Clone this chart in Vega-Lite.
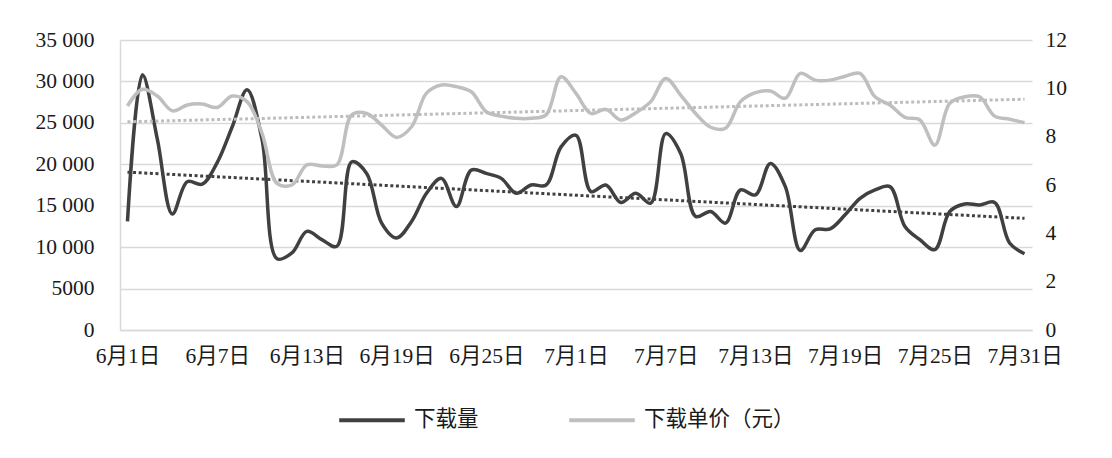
{
  "$schema": "https://vega.github.io/schema/vega-lite/v6.json",
  "width": 912,
  "height": 290,
  "autosize": {"type": "none"},
  "padding": {"left": 120, "top": 40, "right": 80, "bottom": 128},
  "background": "white",
  "config": {
    "view": {"stroke": null},
    "font": "Liberation Serif, Noto Sans CJK SC",
    "axis": {"labelFont": "Liberation Serif, Noto Sans CJK SC", "labelFontSize": 21.5, "labelColor": "#1a1a1a", "ticks": false, "title": null}
  },
  "data": {
    "values": [
      {"date": "2023-06-01", "downloads": 13100, "price": 9.27},
      {"date": "2023-06-02", "downloads": 30800, "price": 9.96},
      {"date": "2023-06-03", "downloads": 23000, "price": 9.68},
      {"date": "2023-06-04", "downloads": 14000, "price": 9.07},
      {"date": "2023-06-05", "downloads": 17900, "price": 9.31},
      {"date": "2023-06-06", "downloads": 17600, "price": 9.35},
      {"date": "2023-06-07", "downloads": 20200, "price": 9.21},
      {"date": "2023-06-08", "downloads": 24500, "price": 9.68},
      {"date": "2023-06-09", "downloads": 29000, "price": 9.45},
      {"date": "2023-06-10", "downloads": 23000, "price": 8.14},
      {"date": "2023-06-11", "downloads": 8600, "price": 6.07},
      {"date": "2023-06-12", "downloads": 9300, "price": 6.0},
      {"date": "2023-06-13", "downloads": 11900, "price": 6.83},
      {"date": "2023-06-14", "downloads": 10900, "price": 6.79},
      {"date": "2023-06-15", "downloads": 10100, "price": 6.83},
      {"date": "2023-06-16", "downloads": 20300, "price": 8.9},
      {"date": "2023-06-17", "downloads": 18900, "price": 8.96},
      {"date": "2023-06-18", "downloads": 12900, "price": 8.48},
      {"date": "2023-06-19", "downloads": 11100, "price": 7.97},
      {"date": "2023-06-20", "downloads": 13100, "price": 8.41},
      {"date": "2023-06-21", "downloads": 16500, "price": 9.8},
      {"date": "2023-06-22", "downloads": 18300, "price": 10.14},
      {"date": "2023-06-23", "downloads": 14900, "price": 10.07},
      {"date": "2023-06-24", "downloads": 19300, "price": 9.86},
      {"date": "2023-06-25", "downloads": 18900, "price": 9.03},
      {"date": "2023-06-26", "downloads": 18300, "price": 8.85},
      {"date": "2023-06-27", "downloads": 16500, "price": 8.76},
      {"date": "2023-06-28", "downloads": 17500, "price": 8.76},
      {"date": "2023-06-29", "downloads": 17500, "price": 8.9},
      {"date": "2023-06-30", "downloads": 22100, "price": 10.48},
      {"date": "2023-07-01", "downloads": 23500, "price": 9.79},
      {"date": "2023-07-02", "downloads": 16700, "price": 8.96},
      {"date": "2023-07-03", "downloads": 17500, "price": 9.13},
      {"date": "2023-07-04", "downloads": 15400, "price": 8.69},
      {"date": "2023-07-05", "downloads": 16500, "price": 8.99},
      {"date": "2023-07-06", "downloads": 15300, "price": 9.45},
      {"date": "2023-07-07", "downloads": 23700, "price": 10.41},
      {"date": "2023-07-08", "downloads": 21300, "price": 9.72},
      {"date": "2023-07-09", "downloads": 13700, "price": 8.96},
      {"date": "2023-07-10", "downloads": 14300, "price": 8.39},
      {"date": "2023-07-11", "downloads": 12900, "price": 8.35},
      {"date": "2023-07-12", "downloads": 16900, "price": 9.45},
      {"date": "2023-07-13", "downloads": 16300, "price": 9.82},
      {"date": "2023-07-14", "downloads": 20100, "price": 9.89},
      {"date": "2023-07-15", "downloads": 17300, "price": 9.59},
      {"date": "2023-07-16", "downloads": 9600, "price": 10.62},
      {"date": "2023-07-17", "downloads": 12100, "price": 10.34},
      {"date": "2023-07-18", "downloads": 12200, "price": 10.34},
      {"date": "2023-07-19", "downloads": 13900, "price": 10.5},
      {"date": "2023-07-20", "downloads": 15900, "price": 10.62},
      {"date": "2023-07-21", "downloads": 16900, "price": 9.65},
      {"date": "2023-07-22", "downloads": 17300, "price": 9.31},
      {"date": "2023-07-23", "downloads": 12500, "price": 8.8},
      {"date": "2023-07-24", "downloads": 10900, "price": 8.69},
      {"date": "2023-07-25", "downloads": 9700, "price": 7.65},
      {"date": "2023-07-26", "downloads": 14300, "price": 9.38},
      {"date": "2023-07-27", "downloads": 15200, "price": 9.65},
      {"date": "2023-07-28", "downloads": 15100, "price": 9.65},
      {"date": "2023-07-29", "downloads": 15400, "price": 8.85},
      {"date": "2023-07-30", "downloads": 10500, "price": 8.72},
      {"date": "2023-07-31", "downloads": 9200, "price": 8.58}
    ],
    "format": {"parse": {"date": "date"}}
  },
  "encoding": {
    "x": {
      "field": "date",
      "type": "temporal",
      "scale": {
        "type": "utc",
        "domain": [
          {"year": 2023, "month": 5, "date": 31, "hours": 12, "utc": true},
          {"year": 2023, "month": 7, "date": 31, "hours": 12, "utc": true}
        ]
      },
      "axis": {
        "values": [
          {"year": 2023, "month": 6, "date": 1, "utc": true},
          {"year": 2023, "month": 6, "date": 7, "utc": true},
          {"year": 2023, "month": 6, "date": 13, "utc": true},
          {"year": 2023, "month": 6, "date": 19, "utc": true},
          {"year": 2023, "month": 6, "date": 25, "utc": true},
          {"year": 2023, "month": 7, "date": 1, "utc": true},
          {"year": 2023, "month": 7, "date": 7, "utc": true},
          {"year": 2023, "month": 7, "date": 13, "utc": true},
          {"year": 2023, "month": 7, "date": 19, "utc": true},
          {"year": 2023, "month": 7, "date": 25, "utc": true},
          {"year": 2023, "month": 7, "date": 31, "utc": true}
        ],
        "labelExpr": "utcFormat(datum.value, '%-m月%-d日')",
        "grid": false,
        "domainColor": "#d9d9d9",
        "domainWidth": 1.5,
        "labelPadding": 15,
        "labelFlush": false,
        "labelOverlap": false
      }
    },
    "color": {
      "type": "nominal",
      "scale": {"domain": ["下载量", "下载单价（元）"], "range": ["#404040", "#bfbfbf"]},
      "legend": {
        "title": null,
        "orient": "none",
        "direction": "horizontal",
        "legendX": 217,
        "legendY": 345,
        "symbolType": "stroke",
        "symbolSize": 4300,
        "symbolStrokeWidth": 4,
        "labelFont": "Liberation Serif, Noto Sans CJK SC",
        "labelFontSize": 21.5,
        "labelColor": "#1a1a1a",
        "labelOffset": 7,
        "columnPadding": 82
      }
    }
  },
  "layer": [
    {
      "layer": [
        {
          "mark": {"type": "line", "interpolate": "catmull-rom", "strokeWidth": 3.5},
          "encoding": {
            "y": {
              "field": "downloads",
              "type": "quantitative",
              "scale": {"domain": [0, 35000]},
              "axis": {
                "orient": "left",
                "values": [0, 5000, 10000, 15000, 20000, 25000, 30000, 35000],
                "labelExpr": "datum.value >= 10000 ? replace(format(datum.value, ','), ',', ' ') : format(datum.value, 'd')",
                "grid": true,
                "gridColor": "#d9d9d9",
                "gridWidth": 1.5,
                "domainColor": "#d9d9d9",
                "domainWidth": 1.5,
                "labelPadding": 26
              }
            },
            "color": {"datum": "下载量"}
          }
        },
        {
          "transform": [{"regression": "downloads", "on": "date"}],
          "mark": {"type": "line", "strokeWidth": 3, "strokeDash": [3, 2.6], "color": "#404040"},
          "encoding": {
            "y": {"field": "downloads", "type": "quantitative"},
            "color": {"value": "#404040"}
          }
        }
      ]
    },
    {
      "layer": [
        {
          "mark": {"type": "line", "interpolate": "catmull-rom", "strokeWidth": 3.5},
          "encoding": {
            "y": {
              "field": "price",
              "type": "quantitative",
              "scale": {"domain": [0, 12]},
              "axis": {
                "orient": "right",
                "values": [0, 2, 4, 6, 8, 10, 12],
                "grid": false,
                "domain": false,
                "labelPadding": 13
              }
            },
            "color": {"datum": "下载单价（元）"}
          }
        },
        {
          "transform": [{"regression": "price", "on": "date"}],
          "mark": {"type": "line", "strokeWidth": 3, "strokeDash": [3, 2.6], "color": "#bdbdbd"},
          "encoding": {
            "y": {"field": "price", "type": "quantitative"},
            "color": {"value": "#bdbdbd"}
          }
        }
      ]
    }
  ],
  "resolve": {"scale": {"y": "independent"}}
}
